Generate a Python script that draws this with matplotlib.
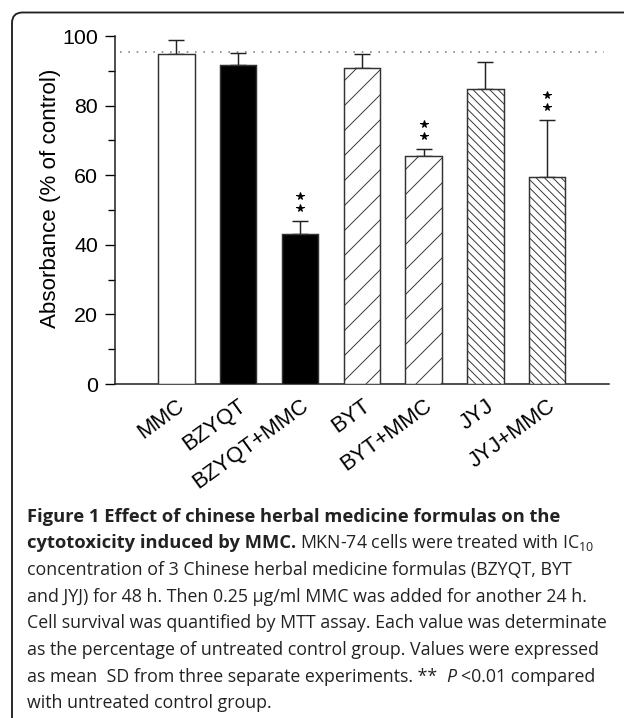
import numpy as np
import matplotlib
matplotlib.use('Agg')
import matplotlib.pyplot as plt
from matplotlib.patches import FancyBboxPatch

# data
groups = ['MMC', 'BZYQT', 'BZYQT+MMC', 'BYT', 'BYT+MMC', 'JYJ', 'JYJ+MMC']
means = [94.8, 91.7, 43.0, 90.8, 65.4, 84.7, 59.4]
sd = [4.1, 3.5, 3.8, 4.0, 2.0, 7.9, 16.5]
signif = [False, False, True, False, True, False, True]
control_level = 95.4

faces = ['white', 'black', 'black', 'white', 'white', 'white', 'white']
hatches = [None, None, None, '/', '/', '\\\\\\', '\\\\\\']

# dpi 75 so the hatch spacing comes out like the original (624x718 px)
W, H, DPI = 624, 718, 75
plt.rcParams['font.family'] = ['Liberation Sans', 'DejaVu Sans']
plt.rcParams['hatch.linewidth'] = 0.9
plt.rcParams['mathtext.fontset'] = 'custom'

fig = plt.figure(figsize=(W / DPI, H / DPI), dpi=DPI)
ax = fig.add_axes([114.6 / W, 1 - 384 / H, (609 - 114.6) / W, (384 - 36) / H])

x = np.arange(len(groups))
ax.errorbar(x, means, yerr=[np.zeros(len(sd)), sd], fmt='none', ecolor='#222222',
            elinewidth=1.4, capsize=8, capthick=1.4, zorder=2)
bars = ax.bar(x, means, width=0.59, color=faces, edgecolor='#333333', linewidth=1.4, zorder=3)
for b, h in zip(bars, hatches):
    if h:
        b.set_hatch(h)

# control reference line
ax.axhline(control_level, xmin=0.01, xmax=0.99, color='#888888', lw=1.6,
           ls=(0, (1, 4)), zorder=1)

# ** markers above the significant groups
for xi, m, s, sg in zip(x, means, sd, signif):
    if sg:
        ax.plot([xi, xi], [m + s + 3.8, m + s + 7.2], ls='none', marker='*',
                ms=7.5, color='black', zorder=4)

ax.set_xlim(-1, 7)
ax.set_ylim(0, 100)
ax.set_yticks([0, 20, 40, 60, 80, 100])
ax.set_yticks([10, 30, 50, 70, 90], minor=True)
ax.tick_params(axis='y', which='major', length=9.6, width=1.3, pad=6, labelsize=20.5)
ax.tick_params(axis='y', which='minor', length=6.7, width=1.3)
ax.tick_params(axis='x', length=0, pad=11)
ax.set_xticks(x)
ax.set_xticklabels(groups, rotation=36, rotation_mode='anchor', ha='right', va='top',
                   fontsize=21)
ax.set_ylabel('Absorbance (% of control)', fontsize=21.5)
ax.yaxis.set_label_coords(-0.108, 0.535)
for side in ['top', 'right']:
    ax.spines[side].set_visible(False)
for side in ['left', 'bottom']:
    ax.spines[side].set_linewidth(1.5)
    ax.spines[side].set_color('#222222')

# rounded frame round the figure
frame = FancyBboxPatch((12 / DPI, -30 / DPI), 700 / DPI, (H - 12.5 + 30) / DPI,
                       boxstyle='round,pad=0,rounding_size=0.14',
                       transform=fig.dpi_scale_trans, fill=False,
                       edgecolor='#222222', linewidth=1.8)
fig.add_artist(frame)

# caption
cap = dict(family=['Open Sans', 'DejaVu Sans'], fontsize=17.0, va='baseline', color='#222222')
bold = dict(cap, fontsize=17.7, weight='bold')
x0 = 27 / W
base = [521.7 + 26.67 * i for i in range(8)]


def fy(p):
    return 1 - p / H


def after(prev, text, gap=0, **kw):
    return ax.annotate(text, xy=(1, fy(prev._base)), xycoords=(prev, 'figure fraction'),
                       xytext=(gap, 0), textcoords='offset points', **kw)


fig.text(x0, fy(base[0]), 'Figure 1 Effect of chinese herbal medicine formulas on the', **bold)
t = fig.text(x0, fy(base[1]), 'cytotoxicity induced by MMC.', **bold)
t._base = base[1]
after(t, r'MKN-74 cells were treated with IC$_{\mathregular{10}}$', gap=4, **cap)
fig.text(x0, fy(base[2]), 'concentration of 3 Chinese herbal medicine formulas (BZYQT, BYT', **cap)
fig.text(x0, fy(base[3]), 'and JYJ) for 48 h. Then 0.25 \u00b5g/ml MMC was added for another 24 h.', **cap)
fig.text(x0, fy(base[4]), 'Cell survival was quantified by MTT assay. Each value was determinate', **cap)
fig.text(x0, fy(base[5]), 'as the percentage of untreated control group. Values were expressed', **cap)
t = fig.text(x0, fy(base[6]), 'as mean  SD from three separate experiments. **', **cap)
t._base = base[6]
tp = after(t, 'P', gap=9, style='italic', **cap)
tp._base = base[6]
after(tp, '<0.01 compared', gap=4, **cap)
fig.text(x0, fy(base[7]), 'with untreated control group.', **cap)

fig.savefig('out.png', dpi=DPI)
